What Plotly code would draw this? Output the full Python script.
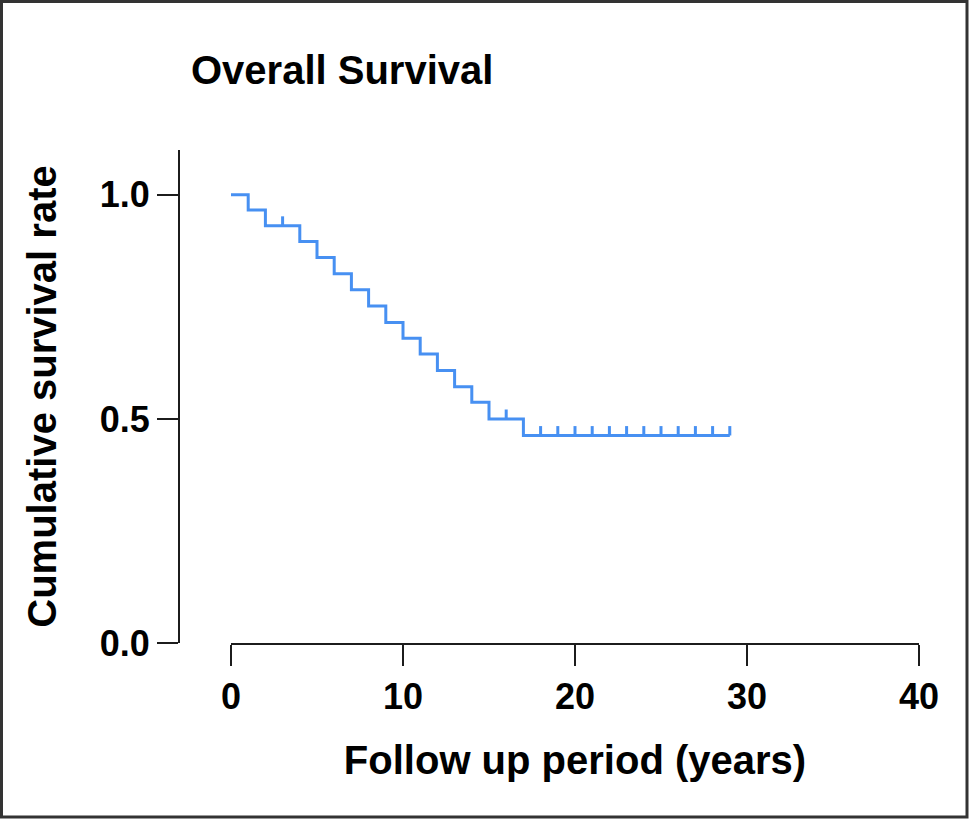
import numpy as np
import plotly.graph_objects as go

# Data
event_times = [0, 1, 2, 4, 5, 6, 7, 8, 9, 10, 11, 12, 13, 14, 15, 17]
survival = [1.0, 0.966, 0.931, 0.896, 0.860, 0.824, 0.788, 0.752, 0.715,
            0.680, 0.645, 0.608, 0.572, 0.537, 0.500, 0.463]
last_followup = 29
censor_times = [3, 16, 18, 19, 20, 21, 22, 23, 24, 25, 26, 27, 28, 29]

x_ticks = [0, 10, 20, 30, 40]
y_ticks = [0.0, 0.5, 1.0]

W, H = 970, 820
BLUE = "#4790f2"
AX = "#1c1c1c"
FONT = "Liberation Sans, Arial, sans-serif"

step_x = event_times + [last_followup]
step_y = survival + [survival[-1]]

idx = np.searchsorted(np.array(event_times), np.array(censor_times), side="right") - 1
censor_y = [survival[i] for i in idx]

fig = go.Figure()
fig.add_trace(go.Scatter(
    x=step_x, y=step_y, mode="lines", line=dict(shape="hv", color=BLUE, width=3),
    showlegend=False, hoverinfo="skip"))
fig.add_trace(go.Scatter(
    x=censor_times, y=censor_y, mode="markers",
    marker=dict(size=1, color=BLUE, opacity=0),
    error_y=dict(type="constant", value=0.021, valueminus=0, symmetric=False,
                 thickness=3, width=0, color=BLUE),
    showlegend=False, hoverinfo="skip"))

fig.update_layout(
    width=W, height=H,
    margin=dict(l=0, r=0, t=0, b=0),
    paper_bgcolor="white", plot_bgcolor="white",
    font=dict(family=FONT, color="black"),
    title=dict(text="Overall Survival", x=191 / W, xanchor="left",
               y=1 - 70 / H, yanchor="middle", xref="container", yref="container",
               font=dict(family=FONT, size=40, weight="bold", color="black")),
    xaxis=dict(domain=[231 / W, 919 / W], range=[0, 40], tickvals=x_ticks,
               showgrid=False, zeroline=False, showline=True, linecolor=AX, linewidth=2,
               ticks="outside", ticklen=21, tickwidth=2, tickcolor=AX,
               tickfont=dict(family=FONT, size=36, weight="bold", color="black"),
               title=dict(text="Follow up period (years)", standoff=30,
                          font=dict(family=FONT, size=40, weight="bold", color="black")),
               automargin=False, anchor="y"),
    yaxis=dict(domain=[1 - 643 / H, 1 - 150 / H], range=[0, 1.1], tickvals=y_ticks,
               tickformat=".1f", anchor="free", position=179 / W,
               showgrid=False, zeroline=False, showline=True, linecolor=AX, linewidth=2,
               ticks="outside", ticklen=21, tickwidth=2, tickcolor=AX,
               tickfont=dict(family=FONT, size=36, weight="bold", color="black"),
               title=dict(text="Cumulative survival rate", standoff=30,
                          font=dict(family=FONT, size=40, weight="bold", color="black")),
               automargin=False),
    shapes=[dict(type="rect", xref="paper", yref="paper",
                 x0=1.5 / W, x1=1 - 3 / W, y0=3 / H, y1=1 - 1.5 / H,
                 line=dict(color="#333333", width=3), fillcolor="rgba(0,0,0,0)",
                 layer="above")],
)

fig.write_html("out.html", config={"displayModeBar": False},
               post_script="document.body.style.margin='0';document.body.style.overflow='hidden';")
